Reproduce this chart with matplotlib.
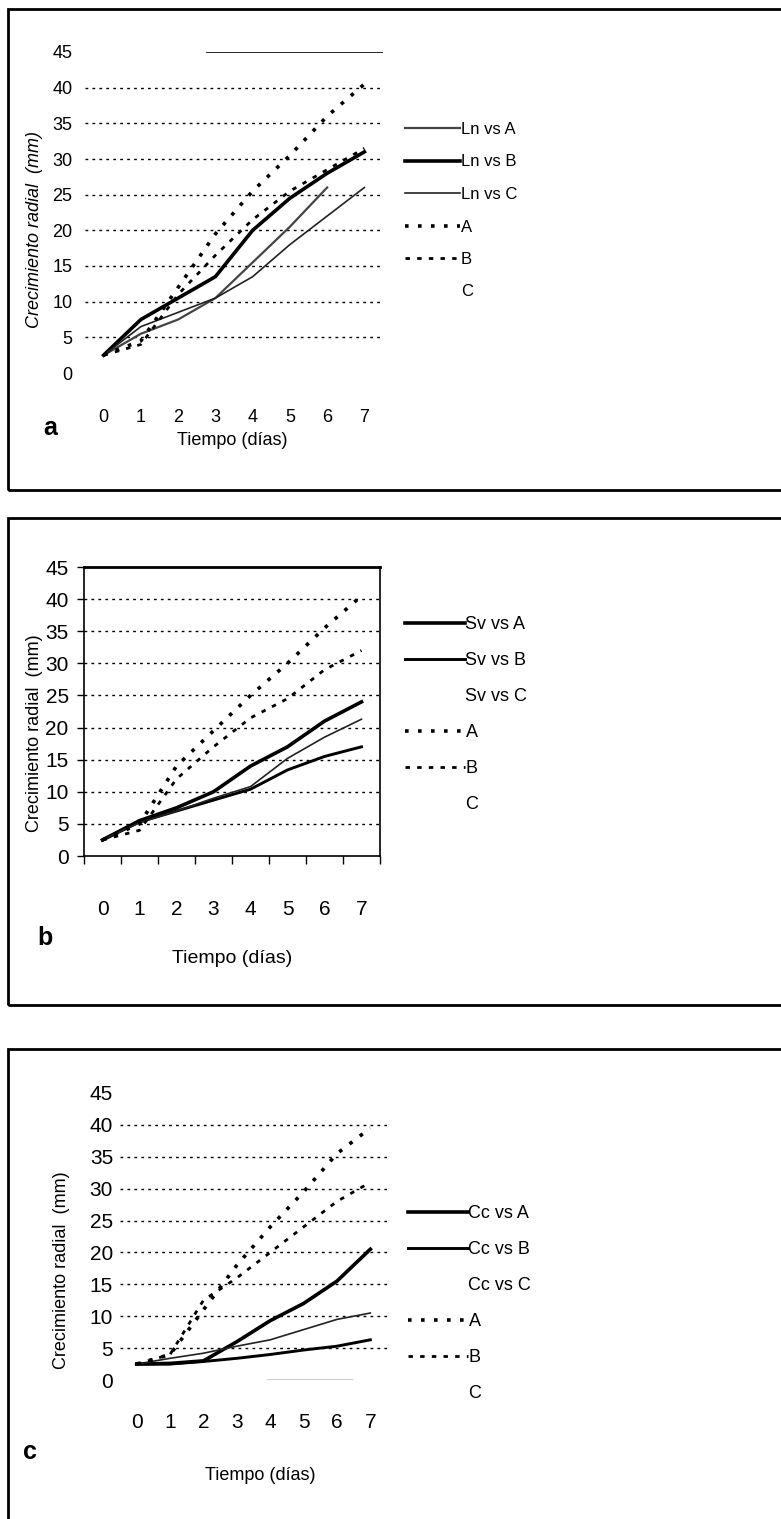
import numpy as np
import matplotlib
matplotlib.use("Agg")
from matplotlib import pyplot as plt
from matplotlib.lines import Line2D
from matplotlib.patches import Rectangle

plt.rcParams['font.family'] = ['Liberation Sans', 'DejaVu Sans']

dias = [0, 1, 2, 3, 4, 5, 6, 7]
yticks = [0, 5, 10, 15, 20, 25, 30, 35, 40, 45]

# panel a (Ln)
ln_vs_a = [2.5, 5.5, 7.5, 10.5, 15.5, 20.5, 26, np.nan]
ln_vs_b = [2.5, 7.5, 10.5, 13.5, 20, 24.5, 28, 31]
ln_vs_c = [2.5, 6.5, 8.5, 10.5, 13.5, 18, 22, 26]
ln_ctrl_a = [2.5, 4.5, 12, 19.5, 25.5, 30.5, 36, 40.5]
ln_ctrl_b = [2.5, 4, 11, 16.5, 21.5, 25.5, 28.5, 31.5]

# panel b (Sv)
sv_vs_a = [2.5, 5.5, 7.5, 10, 14, 17, 21, 24]
sv_vs_b = [2.5, 5.3, 7, 8.7, 10.4, 13.4, 15.5, 17]
sv_vs_c = [2.5, 5.2, 7, 9, 10.8, 15.2, 18.5, 21.3]
sv_ctrl_a = [2.5, 5, 14, 19.5, 25, 30, 35.5, 40.5]
sv_ctrl_b = [2.5, 4, 12, 17, 21.5, 24.5, 29, 32]

# panel c (Cc)
cc_vs_a = [2.5, 2.6, 3, 6, 9.3, 12, 15.5, 20.5]
cc_vs_b = [2.5, 2.5, 2.9, 3.4, 4, 4.7, 5.3, 6.3]
cc_vs_c = [2.5, 3.4, 4.2, 5.3, 6.3, 7.9, 9.5, 10.5]
cc_ctrl_a = [2.5, 4, 11, 18, 24, 29.5, 35.5, 39.5]
cc_ctrl_b = [2.5, 4, 12.5, 16, 20, 24, 28, 31]

W, H = 781, 1519
fig = plt.figure(figsize=(W / 100, H / 100), dpi=100)


def px_box(left, top, right, bottom):
    return [left / W, 1 - bottom / H, (right - left) / W, (bottom - top) / H]


def fx(x):
    return x / W


def fy(y):
    return 1 - y / H


GRIS = dict(color='#444444', lw=1.6, ls='-')
GRUESA = dict(color='black', lw=2.6, ls='-')
MEDIA = dict(color='black', lw=2.1, ls='-')
FINA = dict(color='#222222', lw=1.2, ls='-')
PUNTOS_A = dict(color='black', lw=2.6, ls=(0, (1, 2.6)))
PUNTOS_B = dict(color='black', lw=2.0, ls=(0, (1.6, 2.6)))


def panel(ax, series, tick_pad, ytick_pad, fs_tick):
    """series: lista de (valores, estilo, etiqueta, mostrar_en_leyenda)"""
    ax.set_xlim(-0.5, 7.5)
    ax.set_ylim(0, 45)
    for v in yticks[1:-1]:
        ax.axhline(v, color='black', lw=1.0, ls=(0, (2, 3)), zorder=1)
    handles, labels = [], []
    for vals, st, name, show in series:
        ax.plot(dias, vals, zorder=3, **st)
        handles.append(Line2D([], [], **st) if show else Line2D([], [], ls='none'))
        labels.append(name)
    ax.set_yticks(yticks)
    ax.set_xticks(dias)
    ax.tick_params(axis='x', length=0, pad=tick_pad, labelsize=fs_tick)
    ax.tick_params(axis='y', length=0, pad=ytick_pad, labelsize=fs_tick)
    return handles, labels


def add_legend(ax, handles, labels, x, y, fs):
    # orden de la leyenda: vs A, vs B, vs C, A, B, C
    ax.legend(handles, labels, loc='upper left', bbox_to_anchor=(fx(x), fy(y)),
              bbox_transform=fig.transFigure, frameon=False, fontsize=fs,
              handlelength=3.3, handletextpad=0.05, labelspacing=1.05,
              borderpad=0, borderaxespad=0)


vacio = Line2D([], [], ls='none')

# ---------- a ----------
ax_a = fig.add_axes(px_box(85, 52, 383, 373))
h, l = panel(ax_a, [(ln_vs_a, GRIS, 'Ln vs A', True),
                    (ln_vs_b, GRUESA, 'Ln vs B', True),
                    (ln_vs_c, FINA, 'Ln vs C', True),
                    (ln_ctrl_a, PUNTOS_A, 'A', True),
                    (ln_ctrl_b, PUNTOS_B, 'B', True)], 26, 9, 13)
for sp in ax_a.spines.values():
    sp.set_visible(False)
ax_a.axhline(45, xmin=0.41, xmax=1.0, color='black', lw=1.2)
add_legend(ax_a, h + [vacio], l + ['C'], 405, 122, 12)
fig.text(fx(35), fy(230), 'Crecimiento radial  (mm)', rotation=90, ha='center',
         va='center', fontsize=13, style='italic')
fig.text(fx(232), fy(440), 'Tiempo (días)', ha='center', va='center', fontsize=13)
fig.text(fx(50), fy(428), 'a', ha='center', va='center', fontsize=18, weight='bold')

# ---------- b ----------
ax_b = fig.add_axes(px_box(84, 567, 380, 856))
h, l = panel(ax_b, [(sv_vs_a, GRUESA, 'Sv vs A', True),
                    (sv_vs_b, MEDIA, 'Sv vs B', True),
                    (sv_vs_c, FINA, 'Sv vs C', False),
                    (sv_ctrl_a, PUNTOS_A, 'A', True),
                    (sv_ctrl_b, PUNTOS_B, 'B', True)], 32, 6, 15)
for sp in ax_b.spines.values():
    sp.set_visible(True)
    sp.set_linewidth(1.2)
ax_b.spines['top'].set_linewidth(2.0)
ax_b.set_xticks(np.arange(-0.5, 8, 1), minor=True)
ax_b.tick_params(axis='x', which='minor', length=6, width=1.0, direction='out')
ax_b.tick_params(axis='y', length=5, width=1.0, direction='out')
add_legend(ax_b, h + [vacio], l + ['C'], 405, 616, 13)
fig.text(fx(35), fy(733), 'Crecimiento radial  (mm)', rotation=90, ha='center',
         va='center', fontsize=13)
fig.text(fx(232), fy(958), 'Tiempo (días)', ha='center', va='center', fontsize=14)
fig.text(fx(45), fy(938), 'b', ha='center', va='center', fontsize=18, weight='bold')

# ---------- c ----------
ax_c = fig.add_axes(px_box(120, 1093, 387, 1380))
h, l = panel(ax_c, [(cc_vs_a, GRUESA, 'Cc vs A', True),
                    (cc_vs_b, MEDIA, 'Cc vs B', True),
                    (cc_vs_c, FINA, 'Cc vs C', False),
                    (cc_ctrl_a, PUNTOS_A, 'A', True),
                    (cc_ctrl_b, PUNTOS_B, 'B', True)], 24, 5, 15)
for sp in ax_c.spines.values():
    sp.set_visible(False)
ax_c.axhline(0, xmin=0.55, xmax=0.87, color='black', lw=1.0)
add_legend(ax_c, h + [vacio], l + ['C'], 408, 1205, 13)
fig.text(fx(62), fy(1270), 'Crecimiento radial  (mm)', rotation=90, ha='center',
         va='center', fontsize=13)
fig.text(fx(260), fy(1475), 'Tiempo (días)', ha='center', va='center', fontsize=13)
fig.text(fx(30), fy(1452), 'c', ha='center', va='center', fontsize=18, weight='bold')

# marcos de cada panel
for left, top, right, bottom in [(8, 9, 800, 490), (8, 518, 800, 1005), (8, 1049, 800, 1540)]:
    fig.patches.append(Rectangle((fx(left), fy(bottom)), fx(right) - fx(left), fy(top) - fy(bottom),
                                 transform=fig.transFigure, fill=False, lw=2.0,
                                 edgecolor='black', clip_on=False))

fig.savefig("out.png", dpi=100)
